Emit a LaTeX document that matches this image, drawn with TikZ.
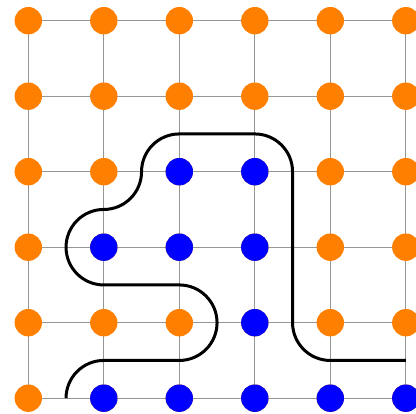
\documentclass[tikz,border=0pt]{standalone}
\begin{document}
\begin{tikzpicture}[x=1pt,y=-1pt,
  dotO/.style={circle,fill={rgb,255:red,255;green,128;blue,0},minimum size=27.4pt,inner sep=0pt},
  dotB/.style={circle,fill={rgb,255:red,0;green,0;blue,255},minimum size=27.4pt,inner sep=0pt},
  gridline/.style={draw={rgb,255:red,150;green,150;blue,150},line width=1.1pt},
  contour/.style={draw=black,line width=3pt,rounded corners=37.75pt}]
\useasboundingbox (0,0) rectangle (416,414);
\begin{scope}[shift={(28.3,20.7)},x=75.5pt,y=-75.5pt]
% grid lines
\foreach \j in {0,...,5} \draw[gridline] (0,\j) -- (5,\j);
\foreach \i in {0,...,5} \draw[gridline] (\i,0) -- (\i,5);
% dots
\foreach \i in {0,...,5}
  \foreach \j in {0,...,5}
    \node[dotO] (d-\i-\j) at (\i,\j) {};
\foreach \i/\j in {2/2,3/2,1/3,2/3,3/3,3/4,1/5,2/5,3/5,4/5,5/5}
  \node[dotB] (b-\i-\j) at (\i,\j) {};
% contour
\coordinate (c0) at (0.5,5);
\coordinate (c1) at (5,4.5);
\draw[contour] (c0) -- (0.5,4.5) -- (2.5,4.5) -- (2.5,3.5) -- (0.5,3.5) -- (0.5,2.5) -- (1.5,2.5) -- (1.5,1.5) -- (3.5,1.5) -- (3.5,4.5) -- (c1);
\end{scope}
\end{tikzpicture}
\end{document}
